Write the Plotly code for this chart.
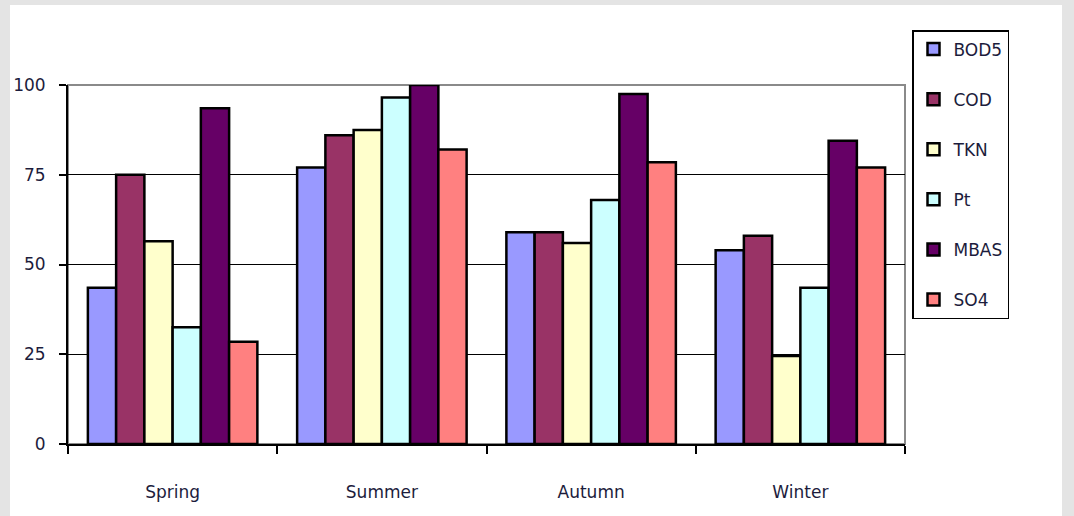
import plotly.graph_objects as go

seasons = ["Spring", "Summer", "Autumn", "Winter"]
series_names = ["BOD5", "COD", "TKN", "Pt", "MBAS", "SO4"]
bod5 = [43.5, 77, 59, 54]
cod = [75, 86, 59, 58]
tkn = [56.5, 87.5, 56, 24.5]
pt = [32.5, 96.5, 68, 43.5]
mbas = [93.5, 100, 97.5, 84.5]
so4 = [28.5, 82, 78.5, 77]
colors = ["#9999FF", "#993366", "#FFFFCC", "#CCFFFF", "#660066", "#FF8080"]
y_ticks = [0, 25, 50, 75, 100]

W, H = 1074, 516
L, R, T, B = 68, 169, 85, 72
pw, ph = W - L - R, H - T - B
FONT = "DejaVu Sans, Liberation Sans, Arial, sans-serif"
TXT = "#1c1c3c"

fig = go.Figure()
for i, (name, vals) in enumerate(zip(series_names, [bod5, cod, tkn, pt, mbas, so4])):
    fig.add_trace(go.Bar(
        x=seasons, y=vals, name=name, legendgroup=name,
        marker=dict(color=colors[i], line=dict(color="black", width=2.5)),
    ))

def px_x(p):
    return (p - L) / pw

def px_y(p):
    return (H - B - p) / ph

fig.update_layout(
    width=W, height=H,
    margin=dict(l=L, r=R, t=T, b=B),
    paper_bgcolor="#e4e4e4",
    plot_bgcolor="rgba(0,0,0,0)",
    barmode="group", bargap=0.19, bargroupgap=0,
    font=dict(family=FONT, size=17, color=TXT),
    showlegend=True,
    legend=dict(
        x=px_x(912), y=px_y(319), xanchor="left", yanchor="bottom",
        bordercolor="black", borderwidth=1.5, bgcolor="white",
        tracegroupgap=25, font=dict(family=FONT, size=17, color=TXT),
        itemwidth=30,
    ),
    shapes=[
        dict(type="rect", xref="paper", yref="paper", layer="below",
             x0=px_x(10), x1=px_x(1062), y0=px_y(520), y1=px_y(5),
             fillcolor="white", line=dict(width=0)),
        dict(type="rect", xref="paper", yref="paper", layer="between",
             x0=0, x1=1, y0=0, y1=1,
             line=dict(color="#8a8a8a", width=2)),
    ],
)

fig.update_xaxes(
    showline=True, linecolor="black", linewidth=2,
    ticks="outside", tickson="boundaries", ticklen=8, tickcolor="black", tickwidth=1.5,
    ticklabelstandoff=32, tickfont=dict(family=FONT, size=17, color=TXT),
    showgrid=False, zeroline=False,
)
fig.update_yaxes(
    range=[0, 100], tickvals=y_ticks,
    showline=True, linecolor="black", linewidth=2,
    ticks="outside", ticklen=7, tickcolor="black", tickwidth=1.5,
    ticklabelstandoff=10, tickfont=dict(family=FONT, size=17, color=TXT),
    showgrid=True, gridcolor="black", gridwidth=1,
    zeroline=False,
)

fig.write_html(
    "out.html",
    config={"displayModeBar": False},
    post_script="document.body.style.margin='0';document.body.style.overflow='hidden';",
)
